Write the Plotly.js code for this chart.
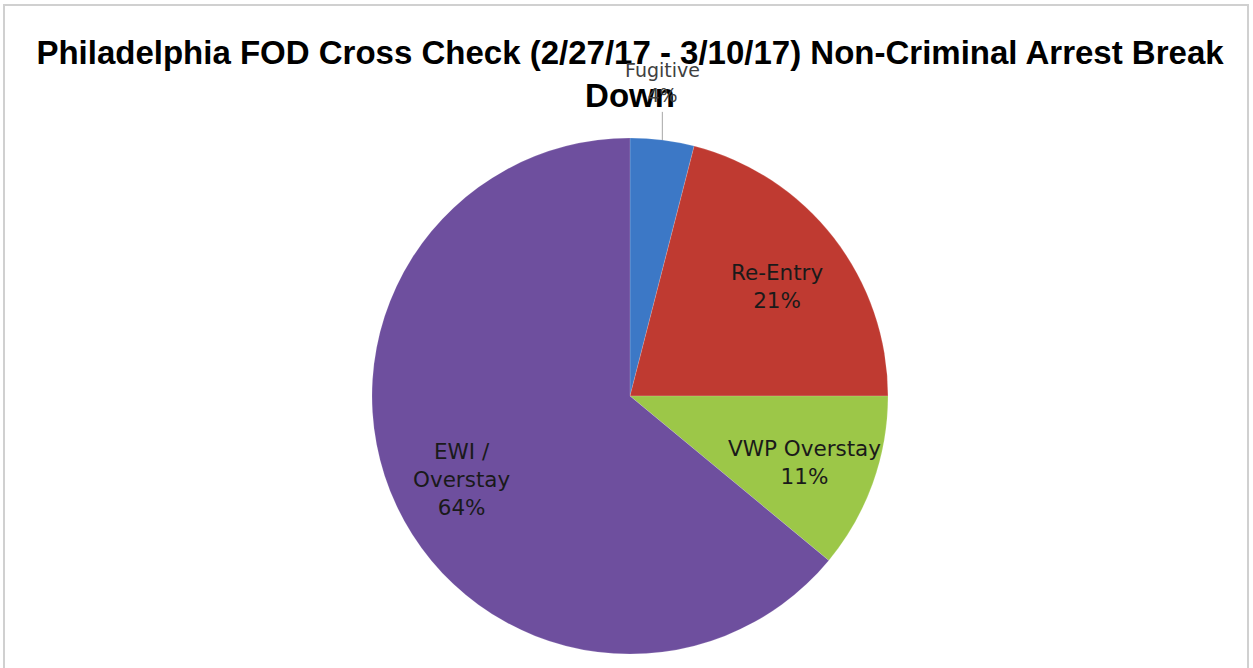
<!DOCTYPE html>
<html>
<head>
<meta charset="utf-8">
<script src="https://cdn.plot.ly/plotly-3.0.1.min.js"></script>
<style>html,body{margin:0;padding:0;background:#fff;}#chart{width:1253px;height:668px;}</style>
</head>
<body>
<div id="chart"></div>
<script>
const categories = ["Fugitive", "Re-Entry", "VWP Overstay", "EWI / Overstay"];
const labelText = ["Fugitive", "Re-Entry", "VWP Overstay", "EWI /<br>Overstay"];
const values = [4, 21, 11, 64];
const colors = ["#3c78c6", "#bf3a31", "#9cc748", "#6e4f9e"];
const titleText = "Philadelphia FOD Cross Check (2/27/17 - 3/10/17) Non-Criminal Arrest Break<br>Down";

const W = 1253, H = 668;
const cxPx = 630, cyPx = 396, rPx = 258;
const toX = px => px / W;
const toY = py => 1 - py / H;
const labelFont = "DejaVu Sans, Liberation Sans, sans-serif";

const total = values.reduce((a, b) => a + b, 0);
const annotations = [];
const shapes = [];
let cum = 0;
values.forEach((v, i) => {
  const mid = (cum + v / 2) / total * 2 * Math.PI;
  cum += v;
  const pct = Math.round(v / total * 100) + "%";
  const sx = Math.sin(mid), sy = -Math.cos(mid);
  if (i === 0) {
    shapes.push({type: "line", xref: "paper", yref: "paper",
      x0: toX(cxPx + sx * rPx), y0: toY(cyPx + sy * rPx),
      x1: toX(cxPx + sx * rPx), y1: toY(cyPx + sy * rPx * 1.11),
      line: {color: "#a6a6a6", width: 1}});
    annotations.push({xref: "paper", yref: "paper", showarrow: false,
      x: toX(cxPx + sx * rPx), y: toY(cyPx - rPx * 1.215),
      text: labelText[i] + "<br>" + pct,
      font: {family: labelFont, size: 19, color: "#404040"},
      xanchor: "center", yanchor: "middle"});
  } else {
    annotations.push({xref: "paper", yref: "paper", showarrow: false,
      x: toX(cxPx + sx * rPx * 0.72), y: toY(cyPx + sy * rPx * 0.72 + 4),
      text: labelText[i] + "<br>" + pct,
      font: {family: labelFont, size: 21.5, color: "#1a1a1a"},
      xanchor: "center", yanchor: "middle"});
  }
});

shapes.push({type: "rect", xref: "paper", yref: "paper",
  x0: toX(4), x1: toX(1248), y0: -0.05, y1: toY(5),
  line: {color: "#d0d0d0", width: 2}, layer: "below"});

const trace = {
  type: "pie",
  labels: categories,
  values: values,
  sort: false,
  direction: "clockwise",
  rotation: 0,
  textinfo: "none",
  hoverinfo: "label+percent",
  marker: {colors: colors, line: {color: "rgba(255,255,255,0.3)", width: 0.5}},
  domain: {x: [toX(cxPx - rPx), toX(cxPx + rPx)], y: [toY(cyPx + rPx), toY(cyPx - rPx)]},
  showlegend: false
};

const layout = {
  width: W, height: H,
  margin: {l: 0, r: 0, t: 0, b: 0},
  paper_bgcolor: "#ffffff",
  title: {
    text: titleText,
    font: {family: "Liberation Sans, Arial, sans-serif", size: 33, color: "#000000", weight: "bold"},
    x: 630 / W, xanchor: "center", y: toY(64), yanchor: "top"
  },
  shapes: shapes,
  annotations: annotations
};

Plotly.newPlot("chart", [trace], layout, {displayModeBar: false, staticPlot: true});
</script>
</body>
</html>
